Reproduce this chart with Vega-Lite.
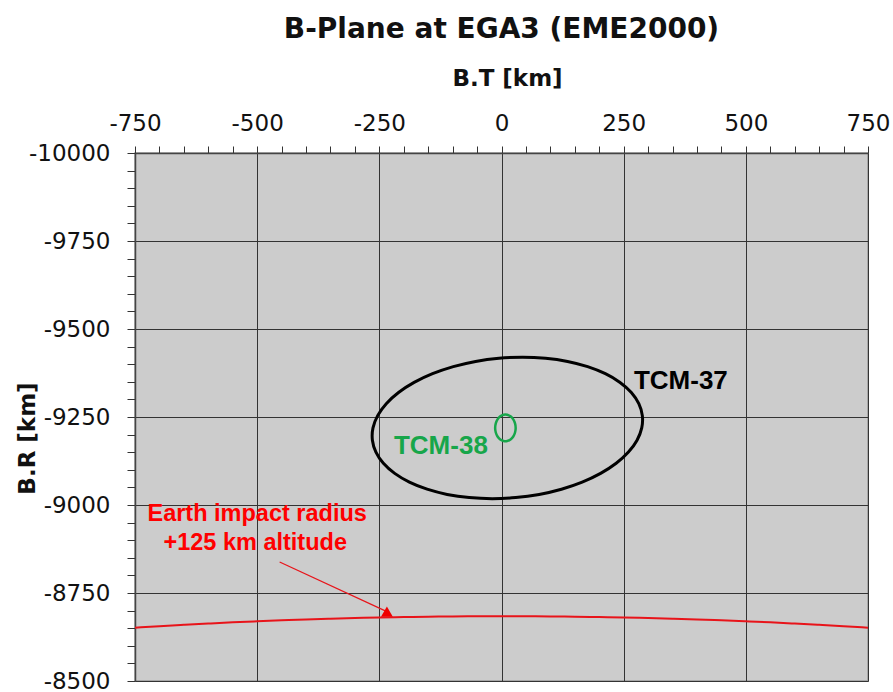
{
  "$schema": "https://vega.github.io/schema/vega-lite/v6.json",
  "autosize": "none",
  "width": 733,
  "height": 528,
  "padding": {"left": 135, "top": 153, "right": 25, "bottom": 11},
  "background": "white",
  "title": {
    "text": "B-Plane at EGA3 (EME2000)",
    "font": "DejaVu Sans",
    "fontSize": 28,
    "fontWeight": "bold",
    "color": "#111111",
    "anchor": "middle",
    "offset": 23
  },
  "config": {
    "view": {"fill": "#cccccc", "stroke": "#999999", "strokeWidth": 1.5}
  },
  "datasets": {
    "tcm37": [
      {"i": 0, "x": 287.0, "y": -9219.0},
      {"i": 1, "x": 277.4, "y": -9184.1},
      {"i": 2, "x": 259.8, "y": -9150.3},
      {"i": 3, "x": 234.7, "y": -9118.5},
      {"i": 4, "x": 202.8, "y": -9089.8},
      {"i": 5, "x": 165.1, "y": -9065.0},
      {"i": 6, "x": 122.7, "y": -9044.9},
      {"i": 7, "x": 77.0, "y": -9030.1},
      {"i": 8, "x": 29.2, "y": -9021.1},
      {"i": 9, "x": -19.0, "y": -9018.0},
      {"i": 10, "x": -66.2, "y": -9021.1},
      {"i": 11, "x": -111.2, "y": -9030.1},
      {"i": 12, "x": -152.3, "y": -9044.9},
      {"i": 13, "x": -188.5, "y": -9065.0},
      {"i": 14, "x": -218.6, "y": -9089.8},
      {"i": 15, "x": -241.7, "y": -9118.5},
      {"i": 16, "x": -257.0, "y": -9150.3},
      {"i": 17, "x": -264.2, "y": -9184.1},
      {"i": 18, "x": -263.0, "y": -9219.0},
      {"i": 19, "x": -253.4, "y": -9253.9},
      {"i": 20, "x": -235.8, "y": -9287.7},
      {"i": 21, "x": -210.7, "y": -9319.5},
      {"i": 22, "x": -178.8, "y": -9348.2},
      {"i": 23, "x": -141.1, "y": -9373.0},
      {"i": 24, "x": -98.7, "y": -9393.1},
      {"i": 25, "x": -53.0, "y": -9407.9},
      {"i": 26, "x": -5.2, "y": -9416.9},
      {"i": 27, "x": 43.0, "y": -9420.0},
      {"i": 28, "x": 90.2, "y": -9416.9},
      {"i": 29, "x": 135.2, "y": -9407.9},
      {"i": 30, "x": 176.3, "y": -9393.1},
      {"i": 31, "x": 212.5, "y": -9373.0},
      {"i": 32, "x": 242.6, "y": -9348.2},
      {"i": 33, "x": 265.7, "y": -9319.5},
      {"i": 34, "x": 281.0, "y": -9287.7},
      {"i": 35, "x": 288.2, "y": -9253.9}
    ],
    "tcm38": [
      {"i": 0, "x": 29.0, "y": -9219.0},
      {"i": 1, "x": 27.7, "y": -9206.0},
      {"i": 2, "x": 24.1, "y": -9194.6},
      {"i": 3, "x": 18.5, "y": -9186.1},
      {"i": 4, "x": 11.6, "y": -9181.6},
      {"i": 5, "x": 4.4, "y": -9181.6},
      {"i": 6, "x": -2.5, "y": -9186.1},
      {"i": 7, "x": -8.1, "y": -9194.6},
      {"i": 8, "x": -11.7, "y": -9206.0},
      {"i": 9, "x": -13.0, "y": -9219.0},
      {"i": 10, "x": -11.7, "y": -9232.0},
      {"i": 11, "x": -8.1, "y": -9243.4},
      {"i": 12, "x": -2.5, "y": -9251.9},
      {"i": 13, "x": 4.4, "y": -9256.4},
      {"i": 14, "x": 11.6, "y": -9256.4},
      {"i": 15, "x": 18.5, "y": -9251.9},
      {"i": 16, "x": 24.1, "y": -9243.4},
      {"i": 17, "x": 27.7, "y": -9232.0}
    ],
    "impact": [
      {"x": -750, "y": -8651.5},
      {"x": -700, "y": -8655.8},
      {"x": -650, "y": -8659.7},
      {"x": -600, "y": -8663.3},
      {"x": -550, "y": -8666.6},
      {"x": -500, "y": -8669.6},
      {"x": -450, "y": -8672.3},
      {"x": -400, "y": -8674.8},
      {"x": -350, "y": -8677.0},
      {"x": -300, "y": -8678.8},
      {"x": -250, "y": -8680.4},
      {"x": -200, "y": -8681.7},
      {"x": -150, "y": -8682.7},
      {"x": -100, "y": -8683.4},
      {"x": -50, "y": -8683.9},
      {"x": 0, "y": -8684.0},
      {"x": 50, "y": -8683.9},
      {"x": 100, "y": -8683.4},
      {"x": 150, "y": -8682.7},
      {"x": 200, "y": -8681.7},
      {"x": 250, "y": -8680.4},
      {"x": 300, "y": -8678.8},
      {"x": 350, "y": -8677.0},
      {"x": 400, "y": -8674.8},
      {"x": 450, "y": -8672.3},
      {"x": 500, "y": -8669.6},
      {"x": 550, "y": -8666.6},
      {"x": 600, "y": -8663.3},
      {"x": 650, "y": -8659.7},
      {"x": 700, "y": -8655.8},
      {"x": 750, "y": -8651.5}
    ],
    "pointer": [
      {"x": -454, "y": -8838, "x2": -234.5, "y2": -8697}
    ],
    "pointerHead": [
      {"x": -234.5, "y": -8697}
    ],
    "blackLabels": [
      {"x": 271, "y": -9353, "text": "TCM-37"}
    ],
    "greenLabels": [
      {"x": -124, "y": -9167, "text": "TCM-38"}
    ],
    "redLabels": [
      {"x": -500, "y": -8975, "text": "Earth impact radius"},
      {"x": -504, "y": -8893, "text": "+125 km altitude"}
    ]
  },
  "encoding": {
    "x": {
      "field": "x",
      "type": "quantitative",
      "scale": {"domain": [-750, 750], "nice": false, "zero": false},
      "axis": {
        "orient": "top",
        "values": [-750, -700, -650, -600, -550, -500, -450, -400, -350, -300, -250, -200, -150, -100, -50, 0, 50, 100, 150, 200, 250, 300, 350, 400, 450, 500, 550, 600, 650, 700, 750],
        "labelExpr": "datum.value % 250 === 0 ? '' + datum.value : ''",
        "labelFont": "DejaVu Sans",
        "labelFontSize": 23,
        "labelColor": "#111111",
        "labelPadding": 11,
        "labelFlush": false,
        "labelOverlap": false,
        "tickSize": 7,
        "tickColor": "#333333",
        "tickWidth": 1,
        "grid": true,
        "gridColor": "#333333",
        "gridWidth": 1,
        "gridOpacity": {"condition": {"test": "datum.value % 250 === 0", "value": 1}, "value": 0},
        "domainColor": "#444444",
        "domainWidth": 1.5,
        "title": "B.T [km]",
        "titleFont": "DejaVu Sans",
        "titleFontSize": 23,
        "titleFontWeight": "bold",
        "titleColor": "#111111",
        "titleX": 372,
        "titleY": -68,
        "titleBaseline": "alphabetic",
        "titleAlign": "center"
      }
    },
    "y": {
      "field": "y",
      "type": "quantitative",
      "scale": {"domain": [-10000, -8500], "reverse": true, "nice": false, "zero": false},
      "axis": {
        "orient": "left",
        "values": [-10000, -9950, -9900, -9850, -9800, -9750, -9700, -9650, -9600, -9550, -9500, -9450, -9400, -9350, -9300, -9250, -9200, -9150, -9100, -9050, -9000, -8950, -8900, -8850, -8800, -8750, -8700, -8650, -8600, -8550, -8500],
        "labelExpr": "datum.value % 250 === 0 ? '' + datum.value : ''",
        "labelFont": "DejaVu Sans",
        "labelFontSize": 23,
        "labelColor": "#111111",
        "labelPadding": 17,
        "labelFlush": false,
        "labelOverlap": false,
        "tickSize": 8,
        "tickColor": "#333333",
        "tickWidth": 1,
        "grid": true,
        "gridColor": "#333333",
        "gridWidth": 1,
        "gridOpacity": {"condition": {"test": "datum.value % 250 === 0", "value": 1}, "value": 0},
        "domainColor": "#444444",
        "domainWidth": 1.5,
        "title": "B.R [km]",
        "titleFont": "DejaVu Sans",
        "titleFontSize": 23,
        "titleFontWeight": "bold",
        "titleColor": "#111111",
        "titleAngle": -90,
        "titleX": -108,
        "titleY": 285,
        "titleAlign": "center",
        "titleBaseline": "middle"
      }
    }
  },
  "layer": [
    {
      "data": {"name": "impact"},
      "mark": {"type": "line", "color": "#e8141a", "strokeWidth": 2, "interpolate": "monotone", "clip": true},
      "encoding": {"order": {"field": "x", "type": "quantitative"}}
    },
    {
      "data": {"name": "pointer"},
      "mark": {"type": "rule", "color": "#e8141a", "strokeWidth": 1.2},
      "encoding": {
        "x2": {"field": "x2"},
        "y2": {"field": "y2"}
      }
    },
    {
      "data": {"name": "pointerHead"},
      "mark": {"type": "point", "shape": "triangle-up", "filled": true, "color": "#f00000", "size": 140, "opacity": 1}
    },
    {
      "data": {"name": "tcm37"},
      "mark": {"type": "line", "color": "#000000", "strokeWidth": 3, "interpolate": "cardinal-closed"},
      "encoding": {"order": {"field": "i", "type": "quantitative"}}
    },
    {
      "data": {"name": "tcm38"},
      "mark": {"type": "line", "color": "#17a64a", "strokeWidth": 2.5, "interpolate": "cardinal-closed"},
      "encoding": {"order": {"field": "i", "type": "quantitative"}}
    },
    {
      "data": {"name": "blackLabels"},
      "mark": {"type": "text", "font": "Liberation Sans", "fontSize": 26, "fontWeight": "bold", "color": "#000000", "align": "left", "baseline": "middle"},
      "encoding": {"text": {"field": "text"}}
    },
    {
      "data": {"name": "greenLabels"},
      "mark": {"type": "text", "font": "Liberation Sans", "fontSize": 26, "fontWeight": "bold", "color": "#17a64a", "align": "center", "baseline": "middle"},
      "encoding": {"text": {"field": "text"}}
    },
    {
      "data": {"name": "redLabels"},
      "mark": {"type": "text", "font": "Liberation Sans", "fontSize": 23.5, "fontWeight": "bold", "color": "#ff0000", "align": "center", "baseline": "middle"},
      "encoding": {"text": {"field": "text"}}
    }
  ]
}
